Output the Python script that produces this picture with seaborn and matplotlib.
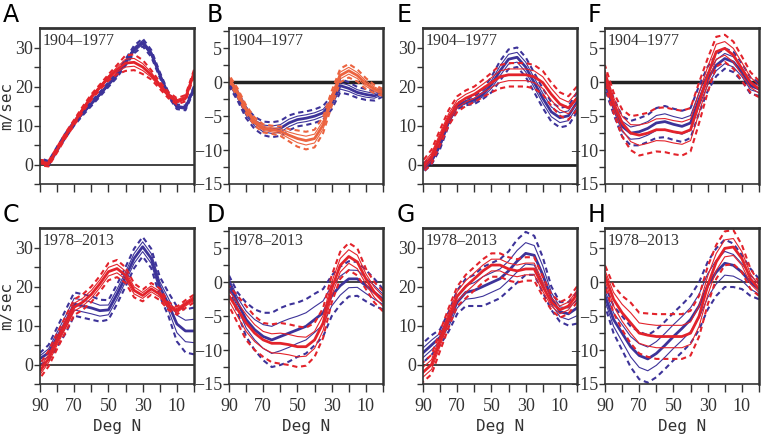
import numpy as np
import seaborn as sns
import matplotlib.pyplot as plt

# latitude grid (deg N), read every 5 degrees
lat = [90, 85, 80, 75, 70, 65, 60, 55, 50, 45, 40, 35, 30, 25, 20, 15, 10, 5, 0]

# centre curves (thick) and 2-sigma offsets (dashed), m/sec
a_red = [0.5, 0.2, 3.8, 7.5, 10.8, 14.2, 17.3, 19.8, 22.3, 24.3, 26.0, 26.2, 25.0, 23.0, 20.3, 17.8, 16.2, 17.0, 23.5]
a_red_sd = [0.7, 0.7, 0.7, 0.7, 0.7, 0.7, 0.7, 0.7, 0.8, 1.2, 2.0, 2.0, 1.8, 1.2, 0.9, 0.8, 0.8, 0.8, 0.8]
a_blue = [1.0, 0.3, 4.0, 7.5, 10.6, 13.2, 15.6, 18.0, 20.5, 23.0, 26.2, 29.5, 31.3, 28.5, 23.0, 18.0, 14.8, 14.5, 19.5]
a_blue_sd = [0.6, 0.6, 0.6, 0.6, 0.6, 0.6, 0.6, 0.6, 0.6, 0.7, 0.8, 1.0, 1.0, 0.9, 0.7, 0.6, 0.6, 0.6, 0.6]

b_red = [0.5, -1.5, -4.0, -5.8, -6.8, -7.0, -7.2, -7.8, -8.3, -8.6, -8.3, -6.3, -2.4, 1.0, 1.7, 1.0, -0.2, -1.0, -1.5]
b_red_sd = [0.6, 0.6, 0.6, 0.6, 0.6, 0.6, 0.7, 0.9, 1.2, 1.3, 1.3, 1.2, 1.1, 1.0, 1.0, 0.9, 0.8, 0.6, 0.5]
b_blue = [0.0, -2.0, -4.5, -6.0, -6.8, -7.0, -6.8, -6.0, -5.5, -5.3, -5.0, -4.5, -3.0, -0.5, -0.9, -1.5, -1.8, -2.0, -1.5]
b_blue_sd = [0.6, 0.7, 0.8, 0.9, 1.0, 1.1, 1.1, 1.1, 1.0, 1.0, 1.0, 1.0, 1.0, 1.0, 0.9, 0.8, 0.8, 0.7, 0.6]

c_red = [-1.7, 1.5, 6.0, 10.4, 14.7, 16.0, 18.0, 20.7, 23.8, 24.6, 22.9, 19.0, 17.7, 19.4, 18.0, 15.0, 13.8, 15.5, 16.9]
c_red_sd = [1.8, 2.0, 2.0, 2.0, 2.0, 2.0, 2.0, 2.0, 2.2, 2.2, 2.0, 1.8, 1.5, 1.5, 1.5, 1.0, 1.0, 1.0, 1.0]
c_blue = [1.5, 3.0, 7.0, 11.0, 15.5, 15.0, 14.5, 13.8, 14.0, 18.0, 22.5, 27.2, 30.2, 27.2, 20.0, 15.5, 10.4, 8.6, 8.6]
c_blue_sd = [1.5, 2.0, 2.5, 3.0, 3.0, 3.0, 3.0, 2.8, 2.5, 2.5, 2.5, 2.5, 2.5, 2.5, 2.5, 3.0, 4.5, 5.5, 6.0]

d_red = [-2.0, -4.0, -6.0, -7.5, -8.5, -9.0, -9.0, -9.2, -9.5, -9.5, -8.5, -6.0, -1.0, 2.5, 3.8, 3.0, 0.5, -1.5, -2.8]
d_red_sd = [1.5, 2.0, 2.5, 2.5, 2.5, 2.8, 3.0, 3.0, 3.0, 2.8, 2.5, 2.2, 2.0, 2.0, 2.0, 2.0, 1.5, 1.5, 1.5]
d_blue = [0.0, -3.0, -5.5, -7.0, -8.0, -8.5, -8.0, -7.5, -7.0, -6.5, -5.5, -4.5, -2.0, -0.5, 0.5, 0.5, -0.5, -1.5, -2.5]
d_blue_sd = [1.0, 1.5, 2.5, 3.0, 3.5, 4.0, 4.2, 4.2, 4.0, 4.0, 3.8, 3.5, 3.0, 2.8, 2.6, 2.5, 2.3, 2.0, 1.5]

e_red = [-0.5, 2.0, 7.0, 12.0, 15.5, 17.0, 18.0, 19.5, 21.0, 22.5, 23.0, 23.0, 23.0, 22.5, 21.0, 18.0, 15.5, 14.5, 17.0]
e_red_sd = [1.5, 1.8, 2.0, 2.0, 2.0, 2.0, 2.0, 2.2, 2.5, 3.0, 3.0, 3.0, 3.0, 3.0, 3.0, 3.0, 3.0, 3.0, 3.0]
e_blue = [-1.0, 1.0, 5.0, 11.0, 15.0, 16.0, 16.5, 18.0, 20.5, 24.0, 27.0, 27.5, 25.0, 21.0, 17.0, 13.5, 12.0, 12.5, 16.0]
e_blue_sd = [1.0, 1.0, 1.0, 1.0, 0.8, 0.8, 1.0, 1.2, 2.0, 2.5, 2.5, 2.5, 2.5, 2.5, 2.5, 2.5, 2.5, 2.5, 2.5]

f_red = [1.0, -3.0, -6.0, -7.5, -7.8, -7.5, -7.0, -7.0, -7.3, -7.5, -7.0, -3.0, 1.0, 4.5, 5.0, 4.0, 2.0, 0.0, -1.0]
f_red_sd = [1.5, 1.5, 2.0, 2.5, 3.0, 3.0, 3.2, 3.3, 3.3, 3.3, 3.2, 3.0, 2.5, 2.2, 2.0, 2.0, 1.8, 1.5, 1.2]
f_blue = [0.0, -3.5, -6.5, -7.5, -7.3, -6.8, -6.0, -5.8, -6.2, -6.5, -6.0, -2.5, 0.5, 2.5, 3.5, 3.0, 1.5, -0.5, -1.0]
f_blue_sd = [1.0, 1.2, 1.5, 1.8, 2.0, 2.0, 2.2, 2.3, 2.3, 2.3, 2.2, 2.0, 1.8, 1.6, 1.5, 1.5, 1.3, 1.2, 1.0]

g_red = [-2.0, 0.0, 6.0, 12.0, 17.5, 20.0, 22.0, 24.0, 25.5, 25.5, 24.5, 24.0, 24.5, 24.5, 20.0, 16.0, 14.0, 15.0, 18.0]
g_red_sd = [2.5, 2.5, 2.5, 2.5, 2.5, 3.0, 3.0, 3.0, 3.0, 3.0, 3.0, 3.0, 3.0, 3.0, 2.5, 2.0, 2.0, 2.0, 2.0]
g_blue = [3.0, 5.0, 7.0, 11.0, 16.0, 18.5, 19.0, 20.0, 21.0, 22.0, 24.0, 26.5, 28.5, 28.0, 23.0, 17.0, 13.5, 13.0, 14.5]
g_blue_sd = [2.5, 2.5, 2.0, 2.5, 3.0, 3.5, 4.0, 5.0, 5.0, 5.0, 5.0, 5.5, 5.5, 5.0, 4.5, 3.0, 2.5, 3.0, 4.0]

h_red = [1.0, -2.5, -4.5, -6.0, -7.5, -7.8, -8.0, -8.0, -8.0, -8.0, -7.5, -5.0, -0.5, 3.0, 5.0, 5.2, 3.5, 0.5, -1.0]
h_red_sd = [1.5, 2.0, 2.5, 3.0, 3.0, 3.2, 3.3, 3.3, 3.3, 3.3, 3.3, 3.0, 2.8, 2.5, 2.5, 2.5, 2.0, 1.5, 1.0]
h_blue = [-2.0, -5.5, -7.5, -9.5, -10.8, -11.3, -10.5, -9.3, -8.0, -6.8, -5.5, -3.5, -0.5, 1.5, 2.8, 2.5, 1.5, 0.0, -1.0]
h_blue_sd = [1.5, 2.0, 2.5, 3.0, 3.5, 3.5, 3.5, 3.5, 3.5, 3.5, 3.5, 3.5, 3.5, 3.5, 3.5, 3.2, 2.5, 2.0, 1.5]

periods = ['1904\u20131977', '1978\u20132013']
wind_ticks = [0, 10, 20, 30]
anom_ticks = [5, 0, -5, -10, -15]
lat_ticks = [90, 70, 50, 30, 10]

RED = '#e3232b'
ORANGE = '#ec6440'
BLUE = '#3d3399'

sns.set_style('ticks')
plt.rcParams['font.family'] = ['Liberation Serif', 'DejaVu Sans']

W, H = 762, 442
fig = plt.figure(figsize=(W / 100, H / 100), dpi=100)

# (letter, row, col, red, red_sd, blue, blue_sd, kind, red colour, zero-line width)
panels = [
    ('A', 0, 0, a_red, a_red_sd, a_blue, a_blue_sd, 'wind', RED, 1.2),
    ('B', 0, 1, b_red, b_red_sd, b_blue, b_blue_sd, 'anom', ORANGE, 2.5),
    ('E', 0, 2, e_red, e_red_sd, e_blue, e_blue_sd, 'wind', RED, 2.0),
    ('F', 0, 3, f_red, f_red_sd, f_blue, f_blue_sd, 'anom', RED, 2.5),
    ('C', 1, 0, c_red, c_red_sd, c_blue, c_blue_sd, 'wind', RED, 1.2),
    ('D', 1, 1, d_red, d_red_sd, d_blue, d_blue_sd, 'anom', RED, 1.2),
    ('G', 1, 2, g_red, g_red_sd, g_blue, g_blue_sd, 'wind', RED, 1.2),
    ('H', 1, 3, h_red, h_red_sd, h_blue, h_blue_sd, 'anom', RED, 1.2),
]

lefts = [40, 229, 423, 605]
letter_x = [3, 207, 397, 588]
tops = [28, 228]
aw, ah = 154, 156


def draw_band(ax, centre, sd, color):
    centre = np.array(centre)
    sd = np.array(sd)
    x = np.array(lat)
    for k in (-1, 1):
        sns.lineplot(x=x, y=centre + k * sd, ax=ax, color=color,
                     linewidth=1.5, linestyle=(0, (2.5, 1.8)))
        sns.lineplot(x=x, y=centre + k * sd / 2, ax=ax, color=color,
                     linewidth=0.8)
    sns.lineplot(x=x, y=centre, ax=ax, color=color, linewidth=2.0)


for letter, r, c, red, red_sd, blue, blue_sd, kind, rcol, zlw in panels:
    ax = fig.add_axes([lefts[c] / W, 1 - (tops[r] + ah) / H, aw / W, ah / H])
    ax.axhline(0, color='#222222', linewidth=zlw, zorder=1)
    draw_band(ax, blue, blue_sd, BLUE)
    draw_band(ax, red, red_sd, rcol)

    ax.set_xlim(90, 0)
    ax.set_xticks(np.arange(90, -1, -10))
    if kind == 'wind':
        ax.set_ylim(-5, 35)
        ax.set_yticks(np.arange(-5, 35, 5))
        ax.set_yticklabels([str(v) if v in wind_ticks else '' for v in np.arange(-5, 35, 5)])
    else:
        ax.set_ylim(-15, 8)
        yt = np.arange(-15, 8, 2.5)
        ax.set_yticks(yt)
        ax.set_yticklabels([('%d' % v).replace('-', '\u2212') if v in anom_ticks else '' for v in yt])

    if r == 1:
        ax.set_xticklabels([str(v) if v in lat_ticks else '' for v in np.arange(90, -1, -10)])
        ax.set_xlabel('Deg N', family='DejaVu Sans Mono', fontsize=11.5, color='#333333', labelpad=3)
    else:
        ax.set_xticklabels([])
        ax.set_xlabel('')
    if c == 0:
        ax.set_ylabel('m/sec', family='DejaVu Sans Mono', fontsize=11.5, color='#333333', labelpad=1)
    else:
        ax.set_ylabel('')

    ax.tick_params(axis='x', direction='out', length=6, width=1, pad=4,
                   labelsize=13, colors='#333333')
    ax.tick_params(axis='y', direction='out', length=4, width=1, pad=1,
                   labelsize=13, colors='#333333')
    for side in ['left', 'bottom', 'right', 'top']:
        ax.spines[side].set_visible(True)
        ax.spines[side].set_color('#333333')
        ax.spines[side].set_linewidth(1.2)
    ax.spines['top'].set_linewidth(2.0)
    ax.spines['right'].set_linewidth(1.8)

    ax.text(0.02, 0.965, periods[r], transform=ax.transAxes, ha='left', va='top',
            fontsize=11.5, color='#333333')

    fig.text(letter_x[c] / W, 1 - (tops[r] - 25) / H, letter, ha='left', va='top',
             fontsize=17, family='DejaVu Sans', color='black')

fig.savefig('out.png', dpi=100)
